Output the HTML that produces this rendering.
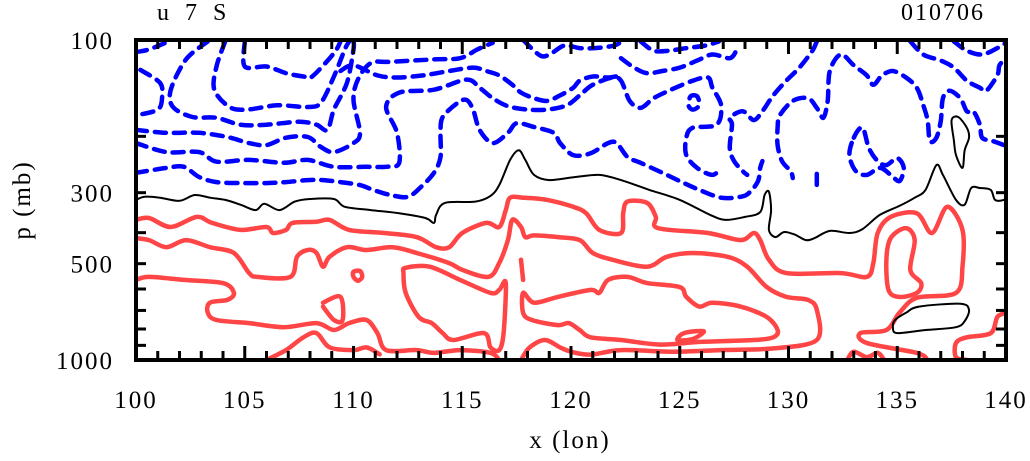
<!DOCTYPE html>
<html><head><meta charset="utf-8"><style>
html,body{margin:0;padding:0;background:#fff;}
svg{display:block;}
text{font-family:"Liberation Serif",serif;fill:#000;}
</style></head><body>
<svg id="chart" width="1030" height="461" viewBox="0 0 1030 461" xmlns="http://www.w3.org/2000/svg">
<g id="marks"></g>
<g id="axes"></g>
<text x="157" y="20" font-size="24" letter-spacing="5">u 7 S</text>
<text x="985" y="20" font-size="24" letter-spacing="2" text-anchor="end">010706</text>
<text x="570" y="448" font-size="25" letter-spacing="2" text-anchor="middle">x (lon)</text>
<text x="30" y="200" font-size="25" letter-spacing="2" text-anchor="middle" transform="rotate(-90 30 200)">p (mb)</text>
</svg>
<script>
const xTicks=[100,105,110,115,120,125,130,135,140];
const yTickLabels=[100,300,500,1000];
const yMinorTicks=[100,200,300,400,500,600,700,800,900,1000];

// contour lines: [lon, p] pairs
const blueLines=[
[[100,109],[100.6,107],[101.5,101]],
[[100.2,124],[101.1,136],[101.2,151],[101.0,165],[100,172]],
[[103.3,101],[102.3,115],[101.6,143],[101.7,162],[102.6,174],[103.7,175],[104.8,184],[106.0,184],[107.5,180],[108.3,184],[108.8,191],[109.1,165],[109.7,136],[110.0,107],[110.0,101]],
[[104.1,101],[103.7,121],[103.6,143],[104.3,162],[105.1,165],[106.5,160],[107.9,162],[108.5,157],[109.1,130],[109.6,107],[109.8,101]],
[[105.0,101],[105.0,121],[106.0,121],[106.9,127],[107.7,130],[108.1,130],[109.1,110],[109.4,101]],
[[100,191],[101.4,195],[102.9,195],[104.2,201],[105.2,210],[106.0,213],[106.9,202],[107.9,201],[108.5,216],[109.1,224],[110.0,210],[110.3,195],[110.0,154],[110.2,133],[110.8,118],[111.7,117],[113.7,115],[114.9,114],[115.7,107],[116.4,102]],
[[100,210],[101.4,224],[102.9,224],[103.7,240],[105.2,237],[106.8,242],[107.9,237],[109.1,249],[110.6,249],[111.5,249],[112.1,242],[112.0,195],[111.5,162],[112.1,146],[113.7,143],[115.2,133],[115.8,141],[116.4,152],[117.1,161],[118.0,165],[118.9,165],[119.8,160],[120.4,149],[121.0,138],[121.9,131],[122.3,134],[122.7,155],[123.2,163],[123.8,152],[124.6,143],[125.6,134],[126.3,131],[126.5,141],[126.9,160],[126.7,184],[125.6,188],[125.3,202],[125.3,229],[125.8,251],[126.5,264],[126.9,251]],
[[100,260],[101.4,251],[102.2,249],[102.9,268],[103.7,278],[104.9,280],[106.0,280],[106.9,278],[107.9,274],[108.6,274],[109.4,278],[110.3,284],[110.9,294],[111.7,305],[112.5,309],[113.1,288],[113.7,260],[114.0,232],[114.0,195],[114.1,174],[114.8,157],[115.2,154],[115.5,165],[115.8,191],[116.4,210],[117.1,195],[117.5,182],[118.3,187],[119.2,195],[119.5,210],[120.1,229],[120.9,226],[121.7,210],[122.1,210],[122.6,232],[123.2,242],[124.2,260],[125.1,278],[125.9,294],[126.9,311],[127.8,309],[128.2,300],[128.6,276],[128.7,251],[128.8,239]],
[[109.4,125],[110.0,120],[111.1,129],[112.0,131],[113.2,129],[114.4,125],[115.5,122],[116.1,125],[116.7,129],[117.3,138],[117.7,146],[118.3,152],[118.9,155],[119.5,149],[120.1,141],[120.4,134],[121.0,130],[121.7,131],[122.3,129]],
[[117.8,100],[118.6,112],[119.1,110],[119.7,104],[120.4,106],[121.1,106],[122.0,104],[122.4,100]],
[[123.2,101],[123.8,108],[124.5,108],[125.3,106],[126.2,104],[126.8,101]],
[[122.3,114],[122.9,122],[123.5,127],[124.2,125],[125.0,122],[125.8,116],[126.5,111],[127.3,114],[127.6,108]],
[[125.5,150],[125.8,150],[125.9,160],[125.6,165],[125.4,160],[125.5,150]],
[[131.3,101],[131.1,108],[130.5,122],[129.9,134],[129.3,149],[128.8,167],[128.4,178],[127.9,167],[127.3,175],[127.4,184],[127.3,218],[127.5,239],[127.9,257],[128.1,264]],
[[139.9,213],[139.4,207],[138.9,202],[138.8,184],[138.5,167],[138.2,167],[137.9,152],[137.4,144],[137.1,152],[137.0,179],[136.8,202],[136.5,207],[136.4,179],[136.2,160],[135.9,141],[135.4,131],[134.8,125],[134.3,129],[133.9,138],[133.6,129],[133.0,120],[132.4,111],[131.9,125],[131.8,155],[131.6,175],[131.3,163],[130.9,152],[130.2,155],[129.6,172],[129.5,188],[129.5,213],[129.7,239],[130.1,257],[130.2,270]],
[[135.6,101],[136.2,111],[137.0,116],[137.6,122],[138.2,134],[138.8,141],[139.1,144],[139.6,129],[139.7,120],[140,114]],
[[137.6,101],[138.2,108],[138.9,111],[139.6,106],[140,102]],
[[133.0,202],[133.4,188],[133.7,218],[134.1,239],[134.5,246],[135.0,234],[135.3,251],[135.1,276],[134.7,264],[134.2,251],[133.6,264],[133.1,257],[132.8,229],[133.0,202]],
[[131.3,262],[131.3,286]]
];

const blackLines=[
[[100,316],[100.4,309],[101.1,311],[102.0,318],[102.7,305],[103.4,311],[104.1,316],[104.8,327],[105.5,340],[105.9,325],[106.6,340],[107.3,320],[108.0,314],[109.1,314],[109.6,332],[110.8,340],[112.1,348],[113.3,360],[113.7,373],[113.8,352],[114.2,323],[115.6,320],[116.3,307],[116.7,284],[117.2,237],[117.6,221],[117.9,237],[118.3,264],[119.0,274],[120.2,268],[121.3,264],[122.3,274],[123.6,294],[125.0,316],[126.4,352],[127.1,365],[128.0,357],[128.7,345],[128.9,305],[129.1,298],[129.2,340],[129.1,392],[129.4,413],[129.8,398],[130.3,406],[130.8,422],[131.2,416],[131.9,395],[132.8,401],[133.4,390],[134.2,352],[135.1,330],[135.8,311],[136.3,294],[136.8,246],[137.1,264],[137.7,316],[138.1,327],[138.4,290],[138.8,290],[139.3,294],[139.5,316],[139.9,316],[140,309]],
[[137.5,178],[137.8,174],[138.2,188],[138.3,202],[138.1,221],[138.0,251],[137.7,229],[137.6,205],[137.5,178]],
[[134.9,750],[135.4,712],[136.0,681],[137.9,667],[138.3,697],[138.1,756],[137.7,790],[136.3,806],[135.0,824],[134.8,790],[134.9,750]]
];

const redLines=[
[[100,365],[100.6,360],[101.6,384],[102.8,357],[103.5,373],[104.8,392],[106.0,384],[106.3,401],[106.9,392],[107.2,373],[108.3,370],[108.9,365],[109.8,392],[111.4,401],[112.9,413],[113.8,444],[114.4,444],[115.0,401],[116.1,373],[116.7,384],[117.0,340],[117.2,311],[117.8,311],[118.9,316],[120.1,332],[120.7,348],[121.3,392],[122.3,401],[122.4,348],[122.6,320],[123.5,323],[123.9,357],[124.0,387],[126.3,401],[127.8,422],[128.4,401],[128.7,422],[129.1,486],[129.9,535],[132.4,535],[133.6,550],[133.9,498],[134.1,401],[134.7,357],[135.9,348],[136.6,401],[137.3,332],[138.0,392],[138.0,511],[137.7,617],[135.9,639],[135.1,712],[134.5,806],[133.3,824],[133.6,885],[135.9,950],[136.4,1000]],
[[134.7,416],[135.4,387],[135.8,422],[135.6,523],[136.1,575],[135.9,617],[135.1,635],[134.6,604],[134.5,486],[134.7,416]],
[[140,712],[139.6,734],[139.3,824],[138.2,849],[137.7,885],[137.7,980],[138.2,1000]],
[[132.7,1000],[133.0,942],[133.6,980],[134.1,950],[134.4,1000]],
[[100,416],[100.6,422],[101.4,444],[102.3,422],[103.4,444],[104.5,463],[105.2,535],[105.6,550],[107.1,550],[107.4,476],[107.9,453],[108.3,463],[108.6,511],[108.9,476],[109.7,444],[110.6,453],[111.8,444],[112.9,463],[114.4,498],[115.0,523],[116.2,550],[116.7,498],[117.1,422],[117.3,365],[117.7,384],[117.9,413],[118.3,408],[119.4,413],[120.4,422],[121.0,463],[121.9,486],[123.5,511],[124.4,476],[125.6,463],[127.2,476],[128.1,511],[129.0,592],[129.9,635],[130.9,649],[131.3,697],[131.3,866],[129.3,920],[126.9,931],[124.7,942],[122.3,931],[120.9,962],[120.0,942],[119.5,913],[118.8,866],[118.1,913],[117.7,1000]],
[[100,562],[100.6,550],[102.2,562],[104.0,575],[104.5,617],[104.2,649],[103.4,662],[103.3,712],[103.7,750],[105.2,767],[106.8,790],[108.3,767],[109.1,806],[109.8,767],[110.6,750],[111.1,824],[111.5,931],[112.9,931],[113.7,950],[114.9,931],[116.3,950],[116.7,1000]],
[[112.3,535],[112.4,617],[113.0,734],[113.6,767],[114.1,824],[114.6,866],[116.0,824],[116.3,913],[116.7,931],[116.9,824],[117.0,575],[116.7,604],[116.3,617],[114.9,562],[113.5,511],[112.4,515],[112.3,535]],
[[117.8,617],[118.3,662],[119.4,635],[120.9,604],[121.3,617],[121.7,562],[122.6,550],[123.5,575],[125.0,592],[125.3,635],[125.9,681],[126.5,662],[127.8,681],[129.0,734],[129.5,806],[129.3,849],[128.4,866],[125.9,878],[124.1,895],[122.3,866],[120.9,849],[120.4,806],[119.9,767],[119.4,778],[118.2,750],[117.8,712],[117.8,617]],
[[110.0,530],[110.3,527],[110.4,550],[110.2,565],[110.0,550],[110.0,530]],
[[108.6,662],[109.4,635],[109.5,750],[109.1,750],[108.6,681]],
[[117.7,486],[117.8,562]],
[[125.2,824],[126.1,813],[125.6,860],[124.9,866],[125.2,824]],
[[106.0,1000],[106.9,931],[107.7,849],[108.3,824],[108.9,913],[110.0,931],[110.6,913],[111.2,960]]
];

const X0=136,X1=1006,Y0=40,Y1=360;
function xs(lon){return X0+(lon-100)/40*(X1-X0);}
function ys(p){return Y0+Math.log10(p/100)*(Y1-Y0);}
const NS='http://www.w3.org/2000/svg';
const marks=document.getElementById('marks');
const axes=document.getElementById('axes');
const clip=document.createElementNS(NS,'clipPath');
clip.setAttribute('id','plotclip');
const cr=document.createElementNS(NS,'rect');
cr.setAttribute('x',X0);cr.setAttribute('y',Y0);cr.setAttribute('width',X1-X0);cr.setAttribute('height',Y1-Y0);
clip.appendChild(cr);
document.getElementById('chart').appendChild(clip);
marks.setAttribute('clip-path','url(#plotclip)');
function pathD(pts){
  const P=pts.map(q=>[xs(q[0]),ys(q[1])]);
  if(P.length<3) return P.map((q,i)=>(i?'L':'M')+q[0].toFixed(1)+','+q[1].toFixed(1)).join('');
  let d='M'+P[0][0].toFixed(1)+','+P[0][1].toFixed(1);
  const closed=(pts[0][0]===pts[pts.length-1][0]&&pts[0][1]===pts[pts.length-1][1]);
  for(let i=0;i<P.length-1;i++){
    let p0=P[i-1]||(closed?P[P.length-2]:P[i]);
    const p1=P[i],p2=P[i+1];
    let p3=P[i+2]||(closed?P[1]:P[i+1]);
    const t=0.16;
    const c1=[p1[0]+(p2[0]-p0[0])*t,p1[1]+(p2[1]-p0[1])*t];
    const c2=[p2[0]-(p3[0]-p1[0])*t,p2[1]-(p3[1]-p1[1])*t];
    d+='C'+c1[0].toFixed(1)+','+c1[1].toFixed(1)+' '+c2[0].toFixed(1)+','+c2[1].toFixed(1)+' '+p2[0].toFixed(1)+','+p2[1].toFixed(1);
  }
  return d;
}
redLines.forEach(function(l){
  const e=document.createElementNS(NS,'path');
  e.setAttribute('d',pathD(l));
  e.setAttribute('fill','none');e.setAttribute('stroke','#ff4545');e.setAttribute('stroke-width','4.5');
  e.setAttribute('stroke-linejoin','round');e.setAttribute('stroke-linecap','round');
  
  
  marks.appendChild(e);
});
blueLines.forEach(function(l){
  const e=document.createElementNS(NS,'path');
  e.setAttribute('d',pathD(l));
  e.setAttribute('fill','none');e.setAttribute('stroke','#0000ff');e.setAttribute('stroke-width','4.5');
  e.setAttribute('stroke-dasharray','11 8');e.setAttribute('stroke-linejoin','round');e.setAttribute('stroke-linecap','round');
  
  
  marks.appendChild(e);
});
blackLines.forEach(function(l){
  const e=document.createElementNS(NS,'path');
  e.setAttribute('d',pathD(l));
  e.setAttribute('fill','none');e.setAttribute('stroke','#000');e.setAttribute('stroke-width','2');
  
  
  marks.appendChild(e);
});
function line(x1,y1,x2,y2,w,name){
  const e=document.createElementNS(NS,'line');
  e.setAttribute('x1',x1);e.setAttribute('y1',y1);e.setAttribute('x2',x2);e.setAttribute('y2',y2);
  e.setAttribute('stroke','#000');e.setAttribute('stroke-width',w);
  
  
  axes.appendChild(e);
}
for(let lon=100;lon<=140;lon++){
  const major=(lon%5===0);const len=major?14:9;const x=xs(lon);
  line(x,Y1,x,Y1-len,3,'x-tick');
  line(x,Y0,x,Y0+len,3,'x-tick');
}
yMinorTicks.forEach(function(p){
  const y=ys(p);
  line(X0,y,X0+10,y,3,'y-tick');
  line(X1,y,X1-10,y,3,'y-tick');
});
const fr=document.createElementNS(NS,'rect');
fr.setAttribute('x',X0);fr.setAttribute('y',Y0);fr.setAttribute('width',X1-X0);fr.setAttribute('height',Y1-Y0);
fr.setAttribute('fill','none');fr.setAttribute('stroke','#000');fr.setAttribute('stroke-width','4');


axes.appendChild(fr);
xTicks.forEach(function(v){
  const t=document.createElementNS(NS,'text');
  t.setAttribute('x',xs(v));t.setAttribute('y',408);t.setAttribute('font-size','25');
  t.setAttribute('letter-spacing','2');t.setAttribute('text-anchor','middle');
  t.textContent=v;
  
  
  axes.appendChild(t);
});
yTickLabels.forEach(function(v){
  const t=document.createElementNS(NS,'text');
  t.setAttribute('x',114);t.setAttribute('y',ys(v)+9);t.setAttribute('font-size','25');
  t.setAttribute('letter-spacing','2');t.setAttribute('text-anchor','end');
  t.textContent=v;
  
  
  axes.appendChild(t);
});
</script>
</body></html>
